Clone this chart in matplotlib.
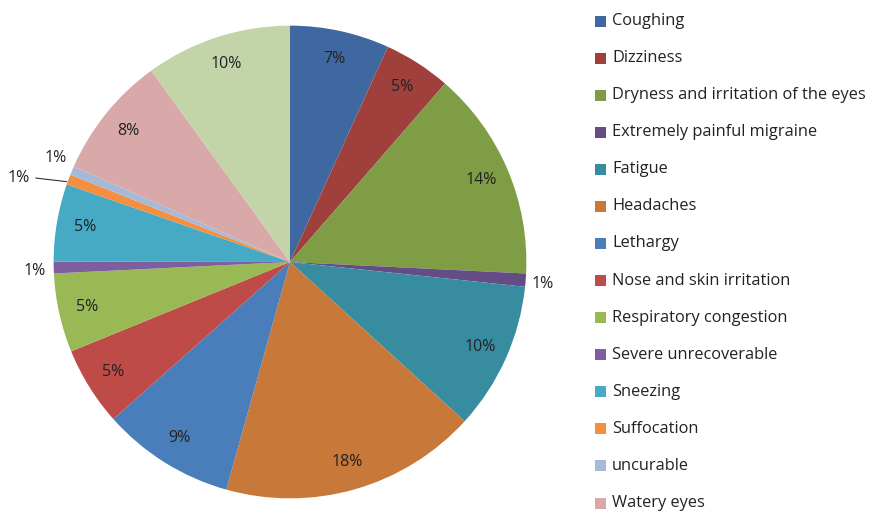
import matplotlib
matplotlib.use("Agg")
import matplotlib.pyplot as plt
from matplotlib.patches import Rectangle
import numpy as np

# symptom shares, clockwise from 12 o'clock
symptoms = ["Coughing", "Dizziness", "Dryness and irritation of the eyes",
            "Extremely painful migraine", "Fatigue", "Headaches", "Lethargy",
            "Nose and skin irritation", "Respiratory congestion",
            "Severe unrecoverable", "Sneezing", "Suffocation", "uncurable",
            "Watery eyes", "Other"]
shares = [6.8, 4.6, 14.4, 0.9, 10.1, 17.6, 9.1, 5.4, 5.4, 0.8, 5.3, 0.7, 0.6, 8.4, 10.0]
colors = ["#3F68A0", "#A0403D", "#7E9D45", "#654C85", "#388CA0", "#C87838",
          "#4A7EBB", "#BE4B48", "#98B954", "#7D5FA0", "#46AAC5", "#F38F3E",
          "#A7B9D8", "#D9A8A8", "#C3D5A8"]

plt.rcParams['font.family'] = ['Open Sans', 'DejaVu Sans']

fig = plt.figure(figsize=(8.9, 5.12), dpi=100)
# square axes (in pixels) centred on the pie
ax = fig.add_axes([30 / 890, -10 / 512, 520 / 890, 520 / 512])

wedges, _, autotexts = ax.pie(shares, colors=colors, startangle=90,
                              counterclock=False, autopct='%.0f%%',
                              pctdistance=0.88,
                              wedgeprops=dict(linewidth=0),
                              textprops=dict(fontsize=11.5, color="#222222"))

# small slices get their labels just outside the rim
total = sum(shares)
for w, t, v in zip(wedges, autotexts, shares):
    if v / total < 0.015:
        ang = np.deg2rad((w.theta1 + w.theta2) / 2)
        t.set_position((1.08 * np.cos(ang), 1.08 * np.sin(ang)))

# Suffocation label sits further out with a leader line
autotexts[11].set_position((-1.15, 0.357))
ax.plot([-1.075, -0.945], [0.355, 0.34], color="#333333", lw=0.8)
autotexts[12].set_position((-0.99, 0.44))
autotexts[3].set_position((1.07, -0.095))
autotexts[9].set_position((-1.08, -0.04))

ax.set_xlim(-1.1, 1.1)
ax.set_ylim(-1.1, 1.1)
ax.set_aspect('equal')
ax.axis('off')

# legend column on the right; the 15th entry lies below the picture edge
W, H = 890, 512
for i, (name, c) in enumerate(zip(symptoms[:14], colors[:14])):
    yc = 21 + i * 37.08
    fig.add_artist(Rectangle((595 / W, (H - yc - 5.5) / H), 10.5 / W, 11 / H,
                             transform=fig.transFigure, facecolor=c,
                             edgecolor="none"))
    fig.text(612 / W, (H - yc) / H, name, fontsize=11.8, va='center',
             ha='left', color="#222222")

fig.savefig("out.png", dpi=100)
